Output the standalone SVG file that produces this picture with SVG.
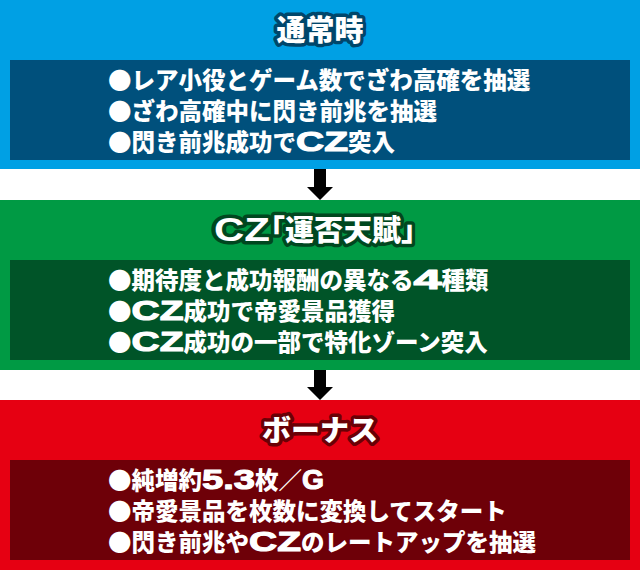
<svg xmlns="http://www.w3.org/2000/svg" width="640" height="570" viewBox="0 0 640 570">
<style>
.title{font-family:"Noto Sans CJK JP","Noto Sans CJK SC",sans-serif;font-size:29px;font-weight:900;fill:#fff;stroke-width:7px;stroke-linejoin:round;paint-order:stroke}
.line{font-family:"Noto Sans CJK JP","Noto Sans CJK SC",sans-serif;font-size:23.5px;font-weight:900;fill:#fff}
.lat{font-family:"Liberation Sans",Arial,sans-serif;font-weight:bold;font-size:28.5px;stroke:#fff;stroke-width:1.1px;stroke-linejoin:round}
.tlat{font-family:"Liberation Sans",Arial,sans-serif;font-weight:bold;font-size:34px}
.arrow{fill:#000}
</style>
<rect width="640" height="570" fill="#fff"/>
<g id="node-normal">
<rect x="0" y="0" width="640" height="169" fill="#00a0e4"/>
<rect x="10" y="60" width="620" height="100" fill="#00507c"/>
<text class="title" x="320" y="41" text-anchor="middle" stroke="#00466b">通常時</text>
<text class="line" x="108" y="89">●レア小役とゲーム数でざわ高確を抽選</text>
<text class="line" x="108" y="120">●ざわ高確中に閃き前兆を抽選</text>
<text class="line" x="108" y="151">●閃き前兆成功で<tspan class="lat" textLength="52" lengthAdjust="spacingAndGlyphs">CZ</tspan>突入</text>
</g>
<g id="node-cz">
<rect x="0" y="200" width="640" height="170" fill="#009a44"/>
<rect x="10" y="260" width="620" height="100" fill="#005428"/>
<text class="title" x="214" y="241" stroke="#00471f"><tspan class="tlat" textLength="56" lengthAdjust="spacingAndGlyphs">CZ</tspan><tspan dx="-14">「運否天賦」</tspan></text>
<text class="line" x="108" y="289">●期待度と成功報酬の異なる<tspan class="lat" textLength="28" lengthAdjust="spacingAndGlyphs">4</tspan>種類</text>
<text class="line" x="108" y="320">●<tspan class="lat" textLength="52" lengthAdjust="spacingAndGlyphs">CZ</tspan>成功で帝愛景品獲得</text>
<text class="line" x="108" y="351">●<tspan class="lat" textLength="52" lengthAdjust="spacingAndGlyphs">CZ</tspan>成功の一部で特化ゾーン突入</text>
</g>
<g id="node-bonus">
<rect x="0" y="400" width="640" height="170" fill="#e60012"/>
<rect x="10" y="460" width="620" height="100" fill="#6e0008"/>
<text class="title" x="320" y="441" text-anchor="middle" stroke="#6a0006">ボーナス</text>
<text class="line" x="108" y="489">●純増約<tspan class="lat" textLength="53" lengthAdjust="spacingAndGlyphs">5.3</tspan>枚／<tspan class="lat" textLength="22" lengthAdjust="spacingAndGlyphs">G</tspan></text>
<text class="line" x="108" y="520">●帝愛景品を枚数に変換してスタート</text>
<text class="line" x="108" y="551">●閃き前兆や<tspan class="lat" textLength="52" lengthAdjust="spacingAndGlyphs">CZ</tspan>のレートアップを抽選</text>
</g>
<g id="connectors">
<polygon class="arrow" points="314,169 326,169 326,187 333,187 320,200 307,187 314,187"/>
<polygon class="arrow" points="314,370 326,370 326,387 333,387 320,400 307,387 314,387"/>
</g>
</svg>
